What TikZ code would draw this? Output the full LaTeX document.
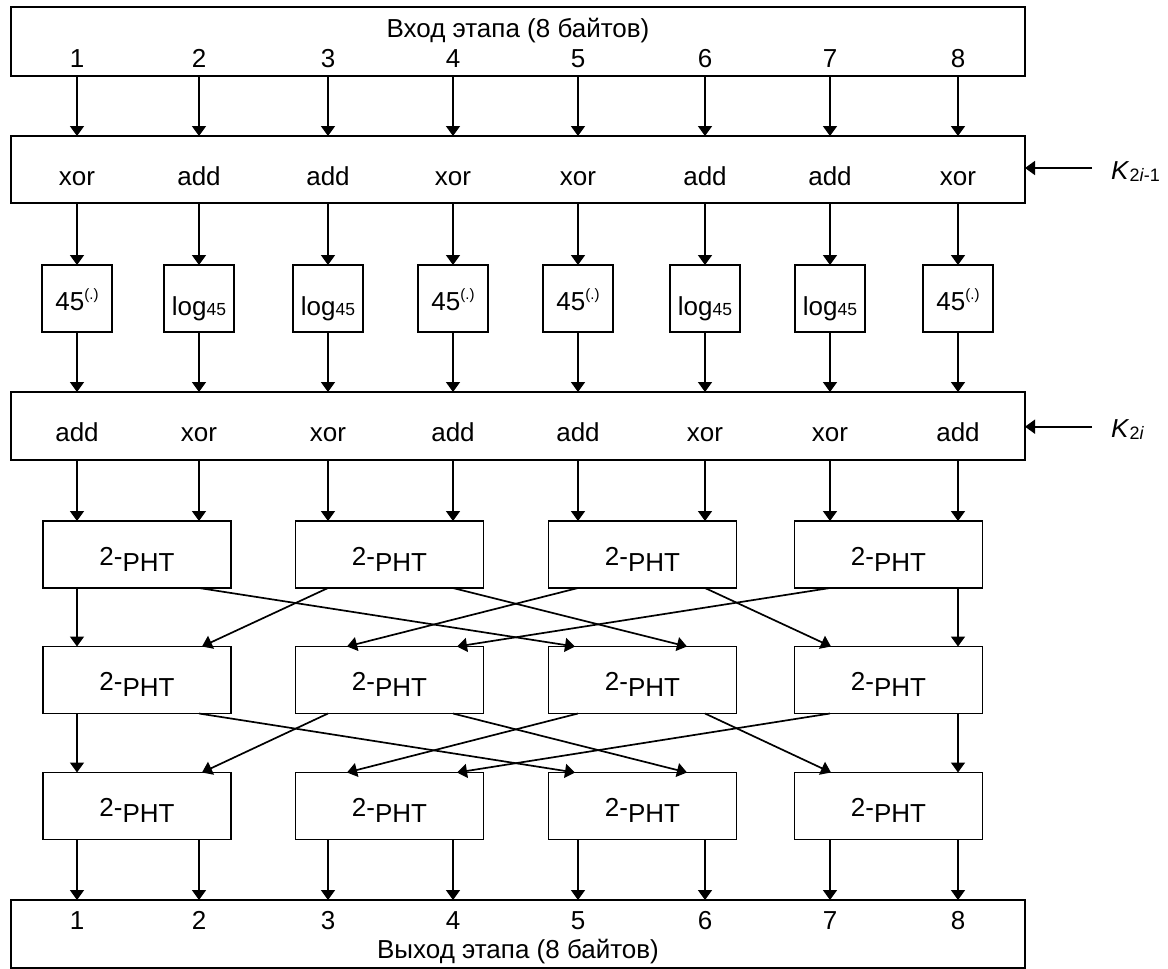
\documentclass[tikz,border=0pt]{standalone}
\usepackage{fontspec}
\setmainfont{Liberation Sans}
\usetikzlibrary{arrows.meta}
\newcommand\myexp{45\raisebox{11pt}{\fontsize{15}{15}\selectfont(.)}}
\newcommand\mylog{log{\fontsize{17.5}{17.5}\selectfont 45}}
\newcommand\mypht{\raisebox{6pt}{2-}PHT}
\begin{document}
\begin{tikzpicture}[x=1pt,y=-1pt,
  font=\fontsize{26}{31}\selectfont,
  box/.style={draw, line width=1.8pt, inner sep=0pt, outer sep=0pt},
  arr/.style={line width=1.7pt, -{Triangle[length=10pt,width=14pt]}},
  lbl/.style={anchor=base, inner sep=0pt}]
\useasboundingbox (0,0) rectangle (1168,969);

% column coordinates
\foreach \i/\x in {1/77,2/199,3/328,4/453,5/578,6/705,7/830,8/958}
  \coordinate (c\i) at (\x,0);
\foreach \i/\x in {1/77,2/202,3/347,4/457,5/575,6/687,7/831,8/958}
  \coordinate (tg\i) at (\x,0);

% input box
\node[box, minimum width=1014pt, minimum height=69pt] (in) at (518,41.5) {};
\node[lbl] (intitle) at (518,37) {Вход этапа (8 байтов)};
\foreach \i/\x in {1/77,2/199,3/328,4/453,5/578,6/705,7/830,8/958}
  \node[lbl] (inn\i) at (\x,67) {\i};

% layer 1
\node[box, minimum width=1014pt, minimum height=67pt] (L1) at (518,169.5) {};
\foreach \i/\x/\t in {1/77/xor,2/199/add,3/328/add,4/453/xor,5/578/xor,6/705/add,7/830/add,8/958/xor}
  \node[lbl] (op1\i) at (\x,185) {\t};
\foreach \i in {1,...,8}
  \draw[arr] (in.south -| c\i) -- (L1.north -| c\i);

% key 1
\coordinate (k1) at (1092,168);
\draw[arr] (k1) -- (k1 -| L1.east);
\node[anchor=base west, inner sep=0pt] (K1) at (1111,179)
  {\textit{K}{\fontsize{18}{18}\selectfont\raisebox{-2pt}{2\textit{i}-1}}};

% small boxes
\foreach \i/\x/\t/\b in {1/77/\myexp/310,2/199/\mylog/315,3/328/\mylog/315,4/453/\myexp/310,5/578/\myexp/310,6/705/\mylog/315,7/830/\mylog/315,8/958/\myexp/310}{
  \node[box, minimum width=70pt, minimum height=67pt] (s\i) at (\x,298.5) {};
  \node[lbl] (st\i) at (\x,\b) {\t};
  \draw[arr] (L1.south -| c\i) -- (s\i.north);
}

% layer 2
\node[box, minimum width=1014pt, minimum height=68pt] (L2) at (518,426) {};
\foreach \i/\x/\t in {1/77/add,2/199/xor,3/328/xor,4/453/add,5/578/add,6/705/xor,7/830/xor,8/958/add}
  \node[lbl] (op2\i) at (\x,441) {\t};
\foreach \i in {1,...,8}
  \draw[arr] (s\i.south) -- (L2.north -| s\i);

% key 2
\coordinate (k2) at (1092,426.7);
\draw[arr] (k2) -- (k2 -| L2.east);
\node[anchor=base west, inner sep=0pt] (K2) at (1111,437)
  {\textit{K}{\fontsize{18}{18}\selectfont\raisebox{-2pt}{2\textit{i}}}};

% PHT boxes
\foreach \r/\y in {1/554.5,2/680,3/806}{
  \foreach \j/\x in {1/137,2/389.5,3/642.5,4/888.5}{
    \node[box, minimum width=188pt, minimum height=67pt] (P\r\j) at (\x,\y) {};
    \node[lbl] (Pt\r\j) at (\x,\y+16.5) {\mypht};
  }
}

% layer 2 -> PHT row 1
\foreach \i/\j in {1/1,2/1,3/2,4/2,5/3,6/3,7/4,8/4}
  \draw[arr] (L2.south -| c\i) -- (P1\j.north -| c\i);

% permutation between PHT rows
\foreach \r/\s in {1/2,2/3}{
  \foreach \a/\sb/\t/\tb in {1/1/1/1,2/1/5/3,3/2/2/1,4/2/6/3,5/3/3/2,6/3/7/4,7/4/4/2,8/4/8/4}
    \draw[arr] (P\r\sb.south -| c\a) -- (P\s\tb.north -| tg\t);
}

% output box
\node[box, minimum width=1014pt, minimum height=68pt] (out) at (518,934) {};
\foreach \i/\x in {1/77,2/199,3/328,4/453,5/578,6/705,7/830,8/958}
  \node[lbl] (outn\i) at (\x,929) {\i};
\node[lbl] (outtitle) at (518,958) {Выход этапа (8 байтов)};

\foreach \i/\j in {1/1,2/1,3/2,4/2,5/3,6/3,7/4,8/4}
  \draw[arr] (P3\j.south -| c\i) -- (out.north -| c\i);
\end{tikzpicture}
\end{document}
